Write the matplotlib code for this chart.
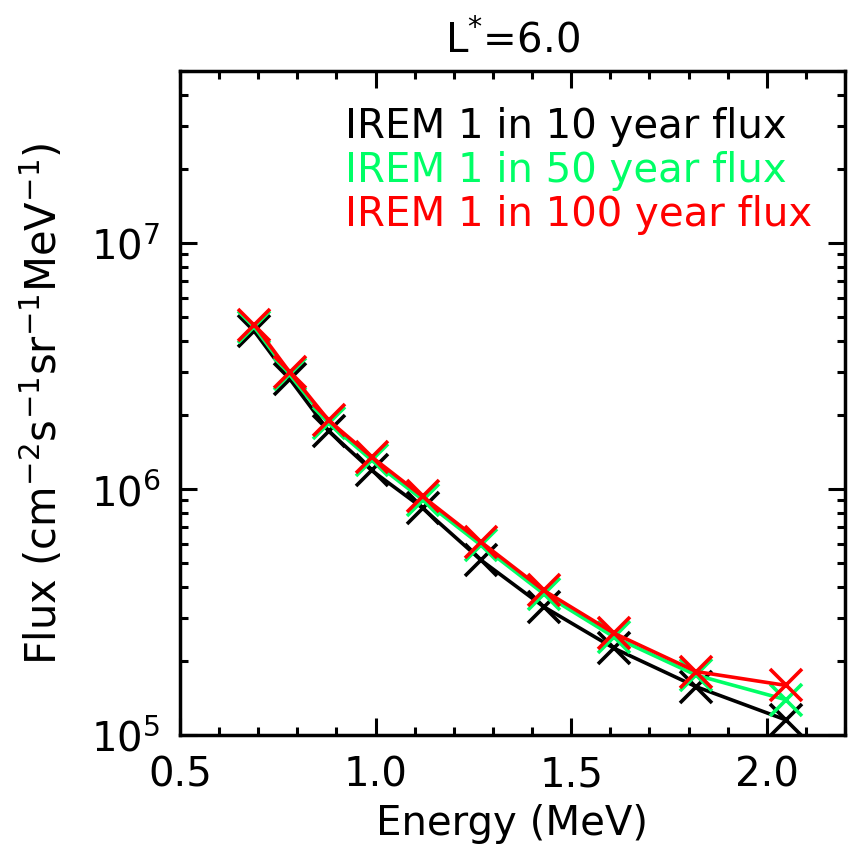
import matplotlib
matplotlib.use("Agg")
import matplotlib.pyplot as plt
from matplotlib.ticker import MultipleLocator, LogLocator, FixedLocator, FormatStrFormatter, NullFormatter

energy = [0.69, 0.78, 0.88, 0.99, 1.12, 1.27, 1.43, 1.61, 1.82, 2.05]
flux_10yr = [4.38e6, 2.81e6, 1.72e6, 1.19e6, 8.37e5, 5.13e5, 3.32e5, 2.25e5, 1.57e5, 1.15e5]
flux_50yr = [4.55e6, 2.92e6, 1.85e6, 1.31e6, 9.05e5, 5.9e5, 3.75e5, 2.5e5, 1.75e5, 1.39e5]
flux_100yr = [4.66e6, 2.99e6, 1.90e6, 1.35e6, 9.33e5, 6.08e5, 3.87e5, 2.59e5, 1.81e5, 1.59e5]
series_labels = ["IREM 1 in 10 year flux", "IREM 1 in 50 year flux", "IREM 1 in 100 year flux"]
series_colors = ["black", "#00ff66", "#ff0000"]
x_ticks = [0.5, 1.0, 1.5, 2.0]

plt.rcParams['font.family'] = ['DejaVu Sans']
plt.rcParams['mathtext.fontset'] = 'dejavusans'

fig = plt.figure(figsize=(8.52, 8.53), dpi=100)
ax = fig.add_axes([180/852, 1-736/853, (845-180)/852, (736-72)/853])

for flux, lab, col in zip([flux_10yr, flux_50yr, flux_100yr], series_labels, series_colors):
    ax.plot(energy, flux, color=col, lw=2.6, marker='x', markersize=23, mew=2.6)

ax.set_yscale('log')
ax.set_xlim(0.5, 2.2)
ax.set_ylim(1e5, 5e7)

ax.xaxis.set_major_locator(FixedLocator(x_ticks))
ax.xaxis.set_major_formatter(FormatStrFormatter('%.1f'))
ax.xaxis.set_minor_locator(MultipleLocator(0.1))
ax.yaxis.set_major_locator(LogLocator(base=10))
ax.yaxis.set_minor_locator(LogLocator(base=10, subs=range(2, 10)))
ax.yaxis.set_minor_formatter(NullFormatter())

ax.tick_params(which='both', direction='in', top=True, right=True, width=2.2)
ax.tick_params(which='major', length=12, labelsize=29, pad=14)
ax.tick_params(which='minor', length=6)
for s in ax.spines.values():
    s.set_linewidth(2.5)

ax.set_xlabel('Energy (MeV)', fontsize=29, labelpad=6)
ax.set_ylabel('Flux (cm$^{-2}$s$^{-1}$sr$^{-1}$MeV$^{-1}$)', fontsize=30, labelpad=18)
ax.set_title('L$^{*}$=6.0', fontsize=29, pad=14)

for i, (lab, col) in enumerate(zip(series_labels, series_colors)):
    ax.text(345/852, 1-(127+44*i)/853, lab, color=col, fontsize=29,
            transform=fig.transFigure, va='center', ha='left')

fig.savefig('out.png', dpi=100)
